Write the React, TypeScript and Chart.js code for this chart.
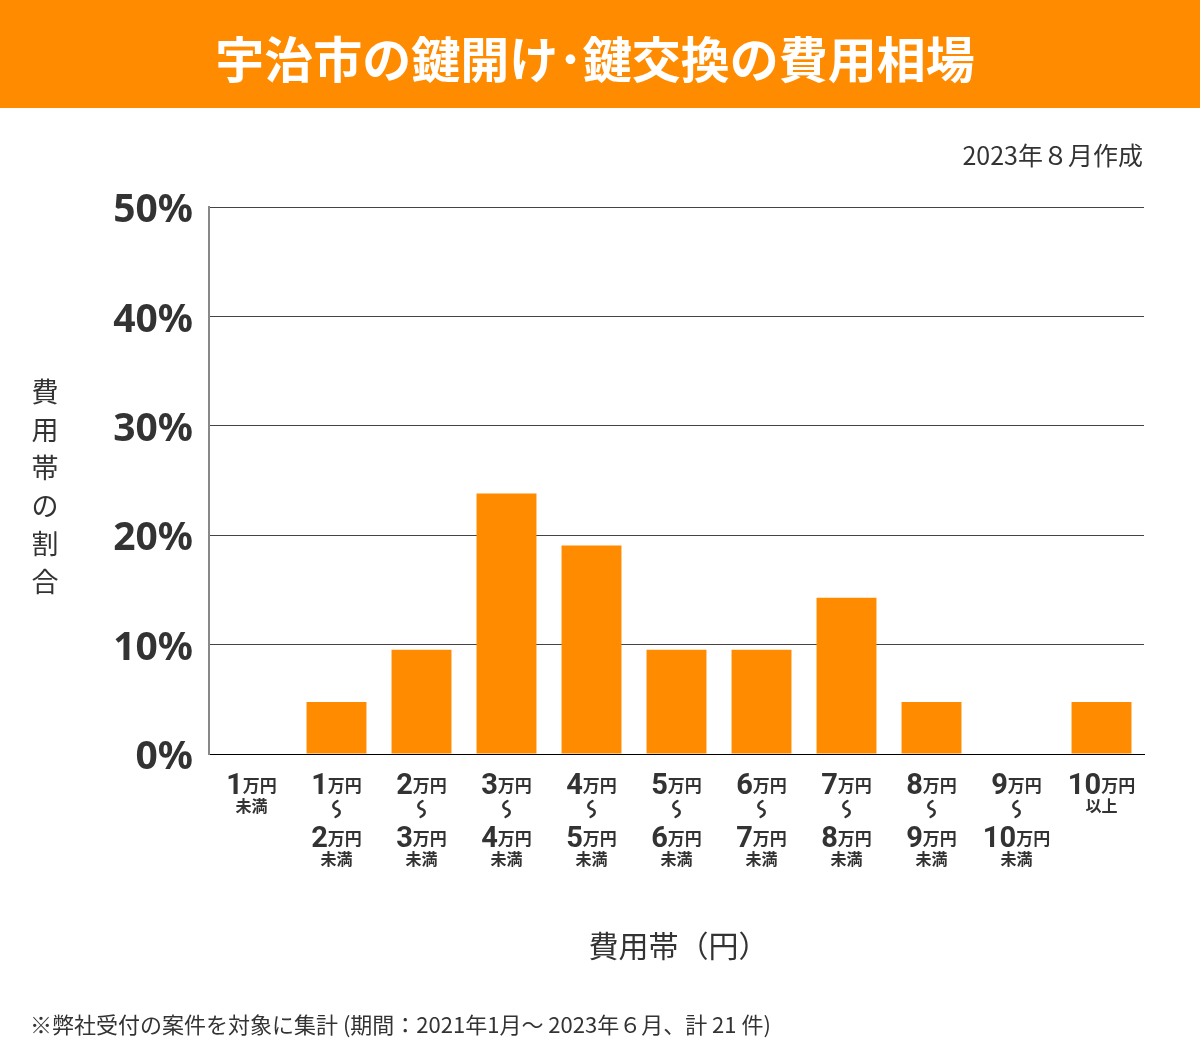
import React, { useEffect, useRef } from "react";
import { Chart, registerables } from "chart.js";

Chart.register(...registerables);

const TITLE = "宇治市の鍵開け･鍵交換の費用相場";
const DATE_NOTE = "2023年８月作成";
const FOOTNOTE = "※弊社受付の案件を対象に集計 (期間：2021年1月～ 2023年６月、計 21 件)";
const Y_TITLE = "費用帯の割合";
const X_TITLE = "費用帯（円）";

const categories = [
  "1万円未満", "1万円～2万円未満", "2万円～3万円未満", "3万円～4万円未満",
  "4万円～5万円未満", "5万円～6万円未満", "6万円～7万円未満", "7万円～8万円未満",
  "8万円～9万円未満", "9万円～10万円未満", "10万円以上",
];
const labelFrom = ["1", "1", "2", "3", "4", "5", "6", "7", "8", "9", "10"];
const labelTo = ["", "2", "3", "4", "5", "6", "7", "8", "9", "10", ""];
const labelSuffix = ["未満", "未満", "未満", "未満", "未満", "未満", "未満", "未満", "未満", "未満", "以上"];

const shares = [0, 4.76, 9.52, 23.81, 19.05, 9.52, 9.52, 14.29, 4.76, 0, 4.76];
const yTicks = [0, 10, 20, 30, 40, 50];

const ORANGE = "#FF8C00";
const TEXT = "#333333";
const CJK = '"Noto Sans CJK JP", "Noto Sans", sans-serif';
const NUM = 'Roboto, "Noto Sans", sans-serif';

const customText = {
  id: "customText",
  afterDraw(chart: any) {
    const ctx = chart.ctx;
    const xs = chart.scales.x;
    const area = chart.chartArea;
    ctx.save();
    ctx.fillStyle = TEXT;
    ctx.strokeStyle = TEXT;

    const drawAmount = (cx: number, baseline: number, num: string) => {
      ctx.font = `bold 29px ${NUM}`;
      const wNum = ctx.measureText(num).width;
      ctx.font = `bold 17px ${CJK}`;
      const wUnit = ctx.measureText("万円").width;
      const total = wNum + wUnit;
      const x0 = cx - total / 2;
      ctx.textAlign = "left";
      ctx.textBaseline = "alphabetic";
      ctx.font = `bold 29px ${NUM}`;
      ctx.fillText(num, x0, baseline);
      ctx.font = `bold 17px ${CJK}`;
      ctx.textBaseline = "middle";
      ctx.fillText("万円", x0 + wNum, baseline - 8);
    };
    const drawSmall = (cx: number, cy: number, s: string) => {
      ctx.font = `bold 16px ${CJK}`;
      ctx.textAlign = "center";
      ctx.textBaseline = "middle";
      ctx.fillText(s, cx, cy);
    };
    const drawWave = (cx: number, cy: number) => {
      ctx.save();
      ctx.lineWidth = 2.4;
      ctx.lineCap = "round";
      ctx.beginPath();
      ctx.moveTo(cx + 1, cy - 8);
      ctx.bezierCurveTo(cx - 5, cy - 5, cx - 4, cy - 1, cx, cy);
      ctx.bezierCurveTo(cx + 4, cy + 1, cx + 5, cy + 5, cx - 1, cy + 8);
      ctx.stroke();
      ctx.restore();
    };

    for (let i = 0; i < categories.length; i++) {
      const cx = xs.getPixelForValue(i);
      const base1 = area.bottom + 40;
      drawAmount(cx, base1, labelFrom[i]);
      if (labelTo[i]) {
        drawWave(cx, area.bottom + 55);
        drawAmount(cx, area.bottom + 93, labelTo[i]);
        drawSmall(cx, area.bottom + 105, labelSuffix[i]);
      } else {
        drawSmall(cx, area.bottom + 52, labelSuffix[i]);
      }
    }

    // x axis title
    ctx.font = `30px ${CJK}`;
    ctx.textAlign = "center";
    ctx.textBaseline = "middle";
    ctx.fillText(X_TITLE, (area.left + area.right) / 2 + 2, area.bottom + 192);

    // y axis title (vertical stacked)
    ctx.font = `27px ${CJK}`;
    const chars = Array.from(Y_TITLE);
    const step = 38;
    const midY = (area.top + area.bottom) / 2 + 6;
    const startY = midY - ((chars.length - 1) * step) / 2;
    chars.forEach((c, k) => ctx.fillText(c, 45, startY + k * step));
    ctx.restore();
  },
};

export default function App() {
  const ref = useRef<HTMLCanvasElement>(null);
  useEffect(() => {
    document.body.style.margin = "0";
    const chart = new Chart(ref.current!, {
      type: "bar",
      data: {
        labels: categories,
        datasets: [
          {
            data: shares,
            backgroundColor: ORANGE,
            barPercentage: 0.705,
            categoryPercentage: 1,
          },
        ],
      },
      options: {
        animation: false,
        responsive: false,
        devicePixelRatio: 1,
        layout: { padding: { top: 207, right: 56, left: 0, bottom: 0 } },
        plugins: { legend: { display: false }, tooltip: { enabled: false } },
        scales: {
          x: {
            grid: { display: false },
            border: { color: "#000000", width: 1 },
            ticks: { display: false },
            afterFit: (s: any) => {
              s.height = 1041 - 754;
            },
          },
          y: {
            min: 0,
            max: 50,
            afterBuildTicks: (s: any) => {
              s.ticks = yTicks.map((v) => ({ value: v }));
            },
            afterFit: (s: any) => {
              s.width = 209;
            },
            grid: { color: "#444444", lineWidth: 1, drawTicks: false },
            border: { color: "#888888", width: 2 },
            ticks: {
              padding: 16,
              labelOffset: 4,
              color: TEXT,
              font: { family: '"Noto Sans", sans-serif', size: 39, weight: "bold" },
              callback: (v: any) => `${v}%`,
            },
          },
        },
      },
      plugins: [customText],
    });
    return () => chart.destroy();
  }, []);

  return (
    <div style={{ position: "relative", width: 1200, height: 1041, background: "#fff", fontFamily: CJK, color: TEXT }}>
      <canvas ref={ref} width={1200} height={1041} style={{ position: "absolute", left: 0, top: 0 }} />
      <div
        style={{
          position: "absolute", left: 0, top: 0, width: 1200, height: 108, background: ORANGE,
          color: "#fff", fontSize: 49, fontWeight: 700, display: "flex", alignItems: "center",
          justifyContent: "center", paddingTop: 4, boxSizing: "border-box",
        }}
      >
        <span style={{ marginLeft: -10 }}>{TITLE}</span>
      </div>
      <div style={{ position: "absolute", right: 57, top: 137, fontSize: 25, lineHeight: "34px" }}>{DATE_NOTE}</div>
      <div style={{ position: "absolute", left: 30, top: 1008, fontSize: 22, lineHeight: "30px" }}>{FOOTNOTE}</div>
    </div>
  );
}
